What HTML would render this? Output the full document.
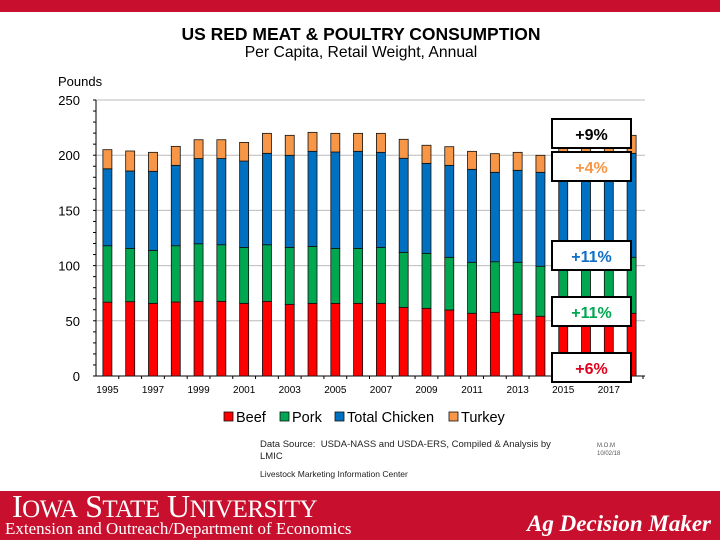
<!DOCTYPE html>
<html><head><meta charset="utf-8"><style>
body{margin:0;width:720px;height:540px;overflow:hidden;background:#fff;font-family:"Liberation Sans",sans-serif;position:relative}
.abs{position:absolute}
</style></head><body>
<div class="abs" style="left:0;top:0;width:720px;height:12px;background:#C8102E"></div>
<div class="abs" style="left:0;top:24px;width:722px;text-align:center;font-weight:bold;font-size:17.5px;color:#000">US RED MEAT &amp; POULTRY CONSUMPTION</div>
<div class="abs" style="left:0;top:44px;width:722px;text-align:center;font-size:15.7px;color:#000">Per Capita, Retail Weight, Annual</div>
<svg class="abs" style="left:0;top:0" width="720" height="440" id="chart"></svg>
<div class="abs" style="left:260px;top:439px;font-size:9.5px;line-height:12px;color:#222;width:310px">Data Source:&nbsp; USDA-NASS and USDA-ERS, Compiled &amp; Analysis by LMIC</div>
<div class="abs" style="left:597px;top:442px;font-size:6px;line-height:8px;color:#555">M.O.M<br>10/02/18</div>
<div class="abs" style="left:260px;top:469px;font-size:8.5px;color:#222">Livestock Marketing Information Center</div>
<div class="abs" style="left:0;top:491px;width:720px;height:49px;background:#C8102E"></div>
<div class="abs" style="left:12px;top:488px;font-family:'Liberation Serif',serif;font-size:32px;color:#fff;letter-spacing:-0.5px">I<span style="font-size:25px">OWA</span> S<span style="font-size:25px">TATE</span> U<span style="font-size:25px">NIVERSITY</span></div>
<div class="abs" style="left:5px;top:519px;font-family:'Liberation Serif',serif;font-size:17px;color:#fff">Extension and Outreach/Department of Economics</div>
<div class="abs" style="left:527px;top:511px;font-family:'Liberation Serif',serif;font-style:italic;font-weight:bold;font-size:23px;color:#fff">Ag Decision Maker</div>
<script>
const years=[1995,1996,1997,1998,1999,2000,2001,2002,2003,2004,2005,2006,2007,2008,2009,2010,2011,2012,2013,2014,2015,2016,2017,2018];
const beef=[66.9,67.3,65.8,67,67.6,67.6,65.8,67.6,64.9,65.8,65.8,65.8,65.8,62.2,61.3,59.8,56.8,57.7,55.9,54.1,54.5,56.5,57.5,56.8];
const pork=[51.1,48.3,48,51,52.2,51.3,50.7,51.3,51.6,51.6,49.8,49.8,50.7,49.8,49.8,47.7,46.2,45.8,47.1,45.3,49.5,50,50.5,50.7];
const chicken=[69.7,70.1,71.6,72.8,77.2,78.1,78.2,82.8,83.4,86.1,87.3,87.9,86.1,85.2,81.5,83.3,84.2,81,83.3,85.1,88,90,91.5,94.2];
const turkey=[17.3,18.1,17.2,17.2,17,17,16.9,18.1,18.1,17.2,16.9,16.3,17.2,17.2,16.4,16.9,16.3,16.9,16.3,15.4,15.5,16,16.5,16.3];
const yTicks=[0,50,100,150,200,250];
const xTickLabels=[1995,1997,1999,2001,2003,2005,2007,2009,2011,2013,2015,2017];
const callouts=[{t:"+9%",c:"#000"},{t:"+4%",c:"#F79646"},{t:"+11%",c:"#0F6FC6"},{t:"+11%",c:"#00A650"},{t:"+6%",c:"#E0001B"}];
const calloutTops=[119,152,241,297,353];
const NS="http://www.w3.org/2000/svg";
const svg=document.getElementById('chart');
const X0=96,X1=643,Y0=376,Y1=100,VMAX=250;
const band=(X1-X0)/years.length;
const xs=i=>X0+band*(i+0.5);
const ys=v=>Y0-(v/VMAX)*(Y0-Y1);
function mk(tag,attrs){const e=document.createElementNS(NS,tag);for(const k in attrs)e.setAttribute(k,attrs[k]);svg.appendChild(e);return e;}
yTicks.forEach(v=>{
  if(v>0){const g=mk('line',{x1:X0,x2:645,y1:ys(v),y2:ys(v),stroke:'#bbb','stroke-width':1});
  
  }
  const t=mk('text',{x:80,y:ys(v)+5,'text-anchor':'end','font-size':13,fill:'#000'});
  t.textContent=v;
  
  
});
for(let v=0;v<=250;v+=10){mk('line',{x1:X0-3,x2:X0,y1:ys(v),y2:ys(v),stroke:'#000'});}
const yl=mk('text',{x:58,y:86,'font-size':13,fill:'#000'});yl.textContent='Pounds';


mk('line',{x1:X0,x2:X0,y1:Y1,y2:Y0,stroke:'#000'});
mk('line',{x1:X0,x2:645,y1:Y0,y2:Y0,stroke:'#000'});
const series=[[beef,'#FF0000','beef'],[pork,'#00A650','pork'],[chicken,'#0070C0','chicken'],[turkey,'#F79646','turkey']];
years.forEach((yr,i)=>{
  let base=0;const w=9;
  series.forEach(([arr,col,nm])=>{
    const v=arr[i];
    const r=mk('rect',{x:xs(i)-w/2,y:ys(base+v),width:w,height:ys(base)-ys(base+v),fill:col,stroke:'#111','stroke-width':0.8});
    
    
    base+=v;
  });
  mk('line',{x1:X0+band*(i+1),x2:X0+band*(i+1),y1:Y0,y2:Y0+3,stroke:'#000'});
});
xTickLabels.forEach(yr=>{
  const i=years.indexOf(yr);
  const t=mk('text',{x:xs(i),y:393,'text-anchor':'middle','font-size':10,fill:'#000'});
  t.textContent=yr;
  
  
});
callouts.forEach((c,k)=>{
  const y=calloutTops[k];
  const r=mk('rect',{x:552,y:y,width:79,height:29,fill:'#fff',stroke:'#000','stroke-width':2});
  
  
  const t=mk('text',{x:591.5,y:y+21,'text-anchor':'middle','font-size':16,'font-weight':'bold',fill:c.c});
  t.textContent=c.t;
  
  
});
const legend=[['Beef','#FF0000',224],['Pork','#00A650',280],['Total Chicken','#0070C0',335],['Turkey','#F79646',449]];
legend.forEach(([n,c,x])=>{
  const r=mk('rect',{x:x,y:412,width:9,height:9,fill:c,stroke:'#111','stroke-width':0.8});
  
  
  const t=mk('text',{x:x+12,y:422,'font-size':14.5,fill:'#000'});
  t.textContent=n;
  
  
});
</script>
</body></html>
